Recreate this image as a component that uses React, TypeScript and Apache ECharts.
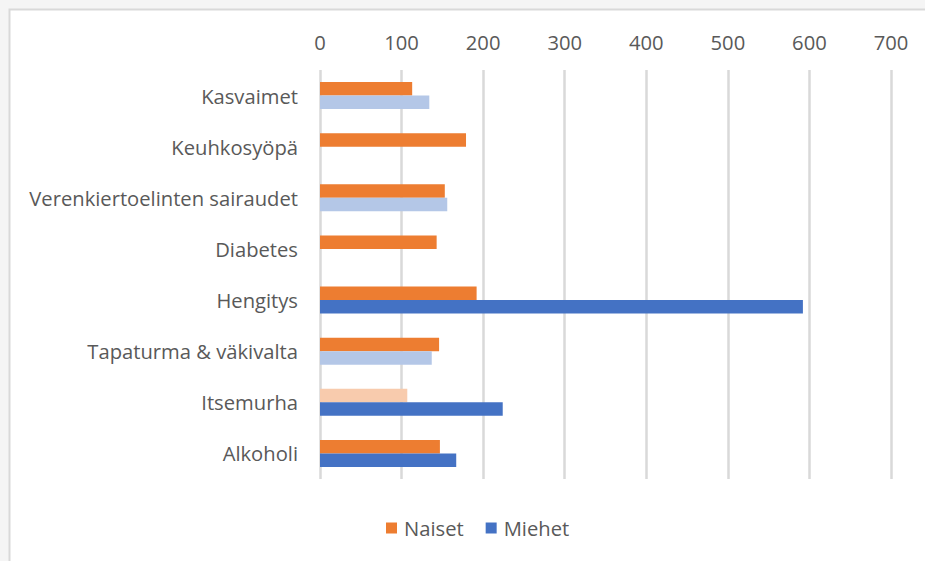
import React, { useEffect, useRef } from "react";
import * as echarts from "echarts";

const categories = [
  "Kasvaimet",
  "Keuhkosyöpä",
  "Verenkiertoelinten sairaudet",
  "Diabetes",
  "Hengitys",
  "Tapaturma & väkivalta",
  "Itsemurha",
  "Alkoholi",
];
const naiset: (number | null)[] = [113, 179, 153, 143, 192, 146, 107, 147];
const miehet: (number | null)[] = [134, null, 156, null, 592, 137, 224, 167];
const seriesNames = ["Naiset", "Miehet"];
const xTicks = [0, 100, 200, 300, 400, 500, 600, 700];

// style: which bars are drawn in pale tint
const paleNaiset = ["Itsemurha"];
const paleMiehet = ["Kasvaimet", "Verenkiertoelinten sairaudet", "Tapaturma & väkivalta"];

const ORANGE = "#ED7D31";
const ORANGE_PALE = "#F8CBAD";
const BLUE = "#4472C4";
const BLUE_PALE = "#B4C7E7";
const FONT = "'Open Sans', 'Noto Sans', sans-serif";
const FS = 20.2;

export default function App() {
  const ref = useRef<HTMLDivElement>(null);
  useEffect(() => {
    if (!ref.current) return;
    const chart = echarts.init(ref.current, undefined, { renderer: "svg" });
    const mk = (vals: (number | null)[], pale: string[], base: string, paleC: string) =>
      vals.map((v, i) => ({
        value: v,
        itemStyle: { color: pale.includes(categories[i]) ? paleC : base },
      }));
    chart.setOption({
      animation: false,
      backgroundColor: "#f5f5f5",
      graphic: [
        {
          type: "rect",
          shape: { x: 9.5, y: 9.5, width: 940, height: 580 },
          style: { fill: "#ffffff", stroke: "#d9d9d9", lineWidth: 2 },
          z: -10,
          silent: true,
        },
      ],
      grid: { left: 320, right: 34, top: 70, bottom: 82, containLabel: false },
      legend: {
        data: seriesNames,
        bottom: 18,
        left: 381,
        icon: "rect",
        itemWidth: 11,
        itemHeight: 11,
        itemGap: 22,
        itemStyle: { borderWidth: 0 },
        textStyle: { color: "#595959", fontSize: FS, fontFamily: FONT, padding: [0, 0, 0, 2] },
      },
      xAxis: {
        type: "value",
        position: "top",
        min: xTicks[0],
        max: xTicks[xTicks.length - 1],
        interval: 100,
        axisLine: { show: false },
        axisTick: { show: false },
        splitLine: { show: true, lineStyle: { color: "#d9d9d9", width: 2.5 } },
        axisLabel: { color: "#595959", fontSize: FS, fontFamily: FONT, margin: 18 },
      },
      yAxis: {
        type: "category",
        data: categories,
        inverse: true,
        axisLine: { show: false },
        axisTick: { show: false },
        axisLabel: { color: "#595959", fontSize: FS, fontFamily: FONT, margin: 22 },
      },
      series: [
        {
          name: seriesNames[0],
          type: "bar",
          data: mk(naiset, paleNaiset, ORANGE, ORANGE_PALE),
          itemStyle: { color: ORANGE },
          barGap: "0%",
          barCategoryGap: "47%",
        },
        {
          name: seriesNames[1],
          type: "bar",
          data: mk(miehet, paleMiehet, BLUE, BLUE_PALE),
          itemStyle: { color: BLUE },
          barGap: "0%",
          barCategoryGap: "47%",
        },
      ],
    });
    return () => chart.dispose();
  }, []);
  return (
    <div
      ref={ref}
      style={{ position: "fixed", left: 0, top: 0, width: 925, height: 561 }}
    />
  );
}
